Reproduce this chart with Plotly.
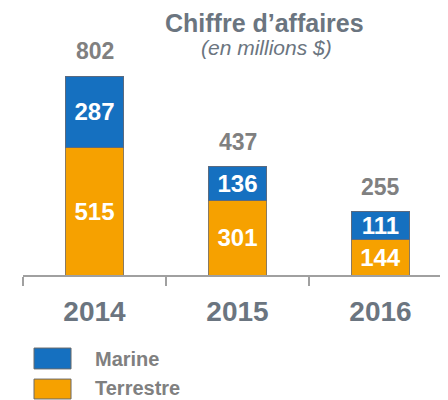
import plotly.graph_objects as go

years = ["2014", "2015", "2016"]
terrestre = [515, 301, 144]
marine = [287, 136, 111]
totals = [802, 437, 255]
series_names = ["Marine", "Terrestre"]

FONT = "Arial, 'Liberation Sans', sans-serif"
BLUE = "#1570c0"
ORANGE = "#f6a100"
GRAY_T = "#6b7580"
GRAY_N = "#808080"

fig = go.Figure()
fig.add_trace(go.Bar(
    x=years, y=terrestre, name="Terrestre", width=0.4,
    marker=dict(color=ORANGE, line=dict(color="#8a7a60", width=1)),
    text=terrestre, textposition="inside", insidetextanchor="middle",
    constraintext="none", textangle=0,
    textfont=dict(family=FONT, size=24, color="white", weight="bold"),
    showlegend=False,
))
fig.add_trace(go.Bar(
    x=years, y=marine, name="Marine", width=0.4,
    marker=dict(color=BLUE, line=dict(color="#5a6a80", width=1)),
    text=marine, textposition="inside", insidetextanchor="middle",
    constraintext="none", textangle=0,
    textfont=dict(family=FONT, size=24, color="white", weight="bold"),
    showlegend=False,
))

for i, tot in enumerate(totals):
    fig.add_annotation(x=i, y=tot, xref="x", yref="y", text="<b>%d</b>" % tot,
                       showarrow=False, yshift=25, xanchor="center", yanchor="middle",
                       font=dict(family=FONT, size=23, color=GRAY_N))

fig.add_annotation(x=0.569, y=1.266, xref="paper", yref="paper",
                   text="<b>Chiffre d’affaires</b>", showarrow=False,
                   xanchor="center", yanchor="middle",
                   font=dict(family=FONT, size=25, color=GRAY_T))
fig.add_annotation(x=0.574, y=1.141, xref="paper", yref="paper",
                   text="<i>(en millions $)</i>", showarrow=False,
                   xanchor="center", yanchor="middle",
                   font=dict(family=FONT, size=21, color=GRAY_T))

# legend (manual)
leg = [("Marine", BLUE, -0.367, -0.472, -0.422),
       ("Terrestre", ORANGE, -0.523, -0.623, -0.568)]
for name, col, y0, y1, yt in leg:
    fig.add_shape(type="rect", xref="paper", yref="paper",
                  x0=0.0259, x1=0.113, y0=y1, y1=y0,
                  fillcolor=col, line=dict(color="#6a6a6a", width=1))
    fig.add_annotation(x=0.165, y=yt, xref="paper", yref="paper", text="<b>%s</b>" % name,
                       showarrow=False, xanchor="left", yanchor="middle",
                       font=dict(family=FONT, size=20, color=GRAY_N))

fig.update_layout(
    width=440, height=392,
    margin=dict(l=15, r=0, t=68, b=125),
    barmode="stack", bargap=0.6,
    plot_bgcolor="white", paper_bgcolor="white",
    showlegend=False,
    xaxis=dict(type="category", range=[-0.5, 2.472], showline=True,
               linecolor="#a0a0a0", linewidth=1.5,
               ticks="outside", tickson="boundaries", ticklen=9,
               tickcolor="#a0a0a0", tickwidth=1.5, ticklabelstandoff=11,
               tickfont=dict(family=FONT, size=28, color=GRAY_T, weight="bold"),
               showgrid=False, zeroline=False),
    yaxis=dict(range=[0, 802], visible=False, showgrid=False, zeroline=False),
)

fig.write_html("out.html")
